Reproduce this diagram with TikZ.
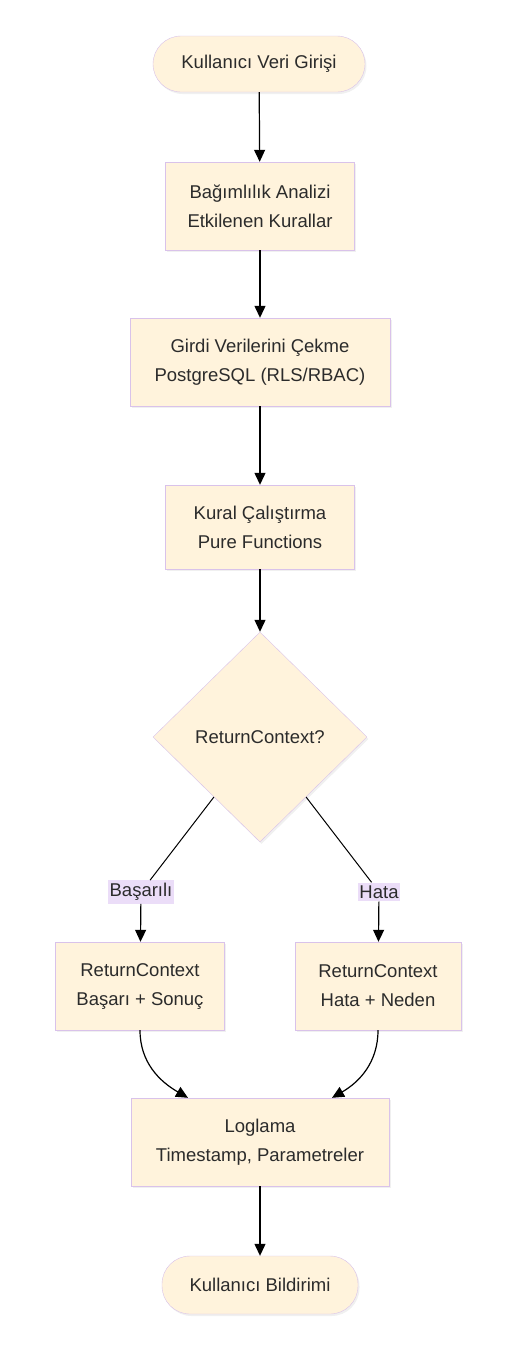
\documentclass[tikz,border=0pt]{standalone}
\usepackage{fontspec}
\setmainfont{Liberation Sans}
\usepackage{xcolor}
\usetikzlibrary{positioning,arrows.meta,shapes.geometric,shadows}
\definecolor{nodefill}{HTML}{FFF3DC}
\definecolor{nodeline}{HTML}{D9C2EA}
\definecolor{labelfill}{HTML}{EBDDF8}
\definecolor{textcol}{HTML}{2B2B2B}

\begin{document}
\begin{tikzpicture}[
  x=1pt, y=-1pt,
  every node/.style={font=\fontsize{18.5}{29}\selectfont, text=textcol},
  stepN/.style={draw=nodeline, fill=nodefill, rectangle, align=center,
                inner sep=0pt, minimum height=88pt,
                drop shadow={opacity=0.12, shadow xshift=1.5pt, shadow yshift=-2pt}},
  termN/.style={stepN, rounded corners=28pt, minimum height=56pt},
  decideN/.style={stepN, diamond, aspect=1, minimum width=214pt, minimum height=210pt},
  branchL/.style={fill=labelfill, inner xsep=1.5pt, inner ysep=3pt},
  flow/.style={line width=1.2pt, -{Triangle[length=12pt,width=11pt]}},
  plain/.style={line width=1pt, -}
]
\useasboundingbox (0,0) rectangle (519,1350);
% Main chain
\node[termN, minimum width=212pt] (input) at (259, 64) {Kullanıcı Veri Girişi};
\node[stepN, minimum width=189pt] (deps) at (260, 206) {Bağımlılık Analizi\\Etkilenen Kurallar};
\node[stepN, minimum width=260pt] (fetch) at (260, 362) {Girdi Verilerini Çekme\\PostgreSQL (RLS/RBAC)};
\node[stepN, minimum width=189pt, minimum height=84pt] (run) at (260, 527) {Kural Çalıştırma\\Pure Functions};
\node[decideN] (check) at (260, 737) {ReturnContext?};
% Branch labels
\node[branchL] (okL) at (141, 892) {Başarılı};
\node[branchL] (errL) at (379, 892) {Hata};
% Branch results
\node[stepN, minimum width=169pt] (okR) at (140, 986) {ReturnContext\\Başarı + Sonuç};
\node[stepN, minimum width=166pt] (errR) at (378, 986) {ReturnContext\\Hata + Neden};
% Tail
\node[stepN, minimum width=258pt] (log) at (260, 1142) {Loglama\\Timestamp, Parametreler};
\node[termN, minimum width=196pt, minimum height=58pt] (notify) at (260, 1285) {Kullanıcı Bildirimi};
% Straight flow
\draw[flow] (input) -- (deps);
\draw[flow] (deps) -- (fetch);
\draw[flow] (fetch) -- (run);
\draw[flow] (run) -- (check);
% Decision branches
\draw[plain] (check) -- (okL);
\draw[flow] (okL) -- (okR);
\draw[plain] (check) -- (errL);
\draw[flow] (errL) -- (errR);
% Merge
\draw[flow] (okR.south) to[out=-90, in=150] (log.north -| 188,0);
\draw[flow] (errR.south) to[out=-90, in=30] (log.north -| 332,0);
\draw[flow] (log) -- (notify);
\end{tikzpicture}
\end{document}
